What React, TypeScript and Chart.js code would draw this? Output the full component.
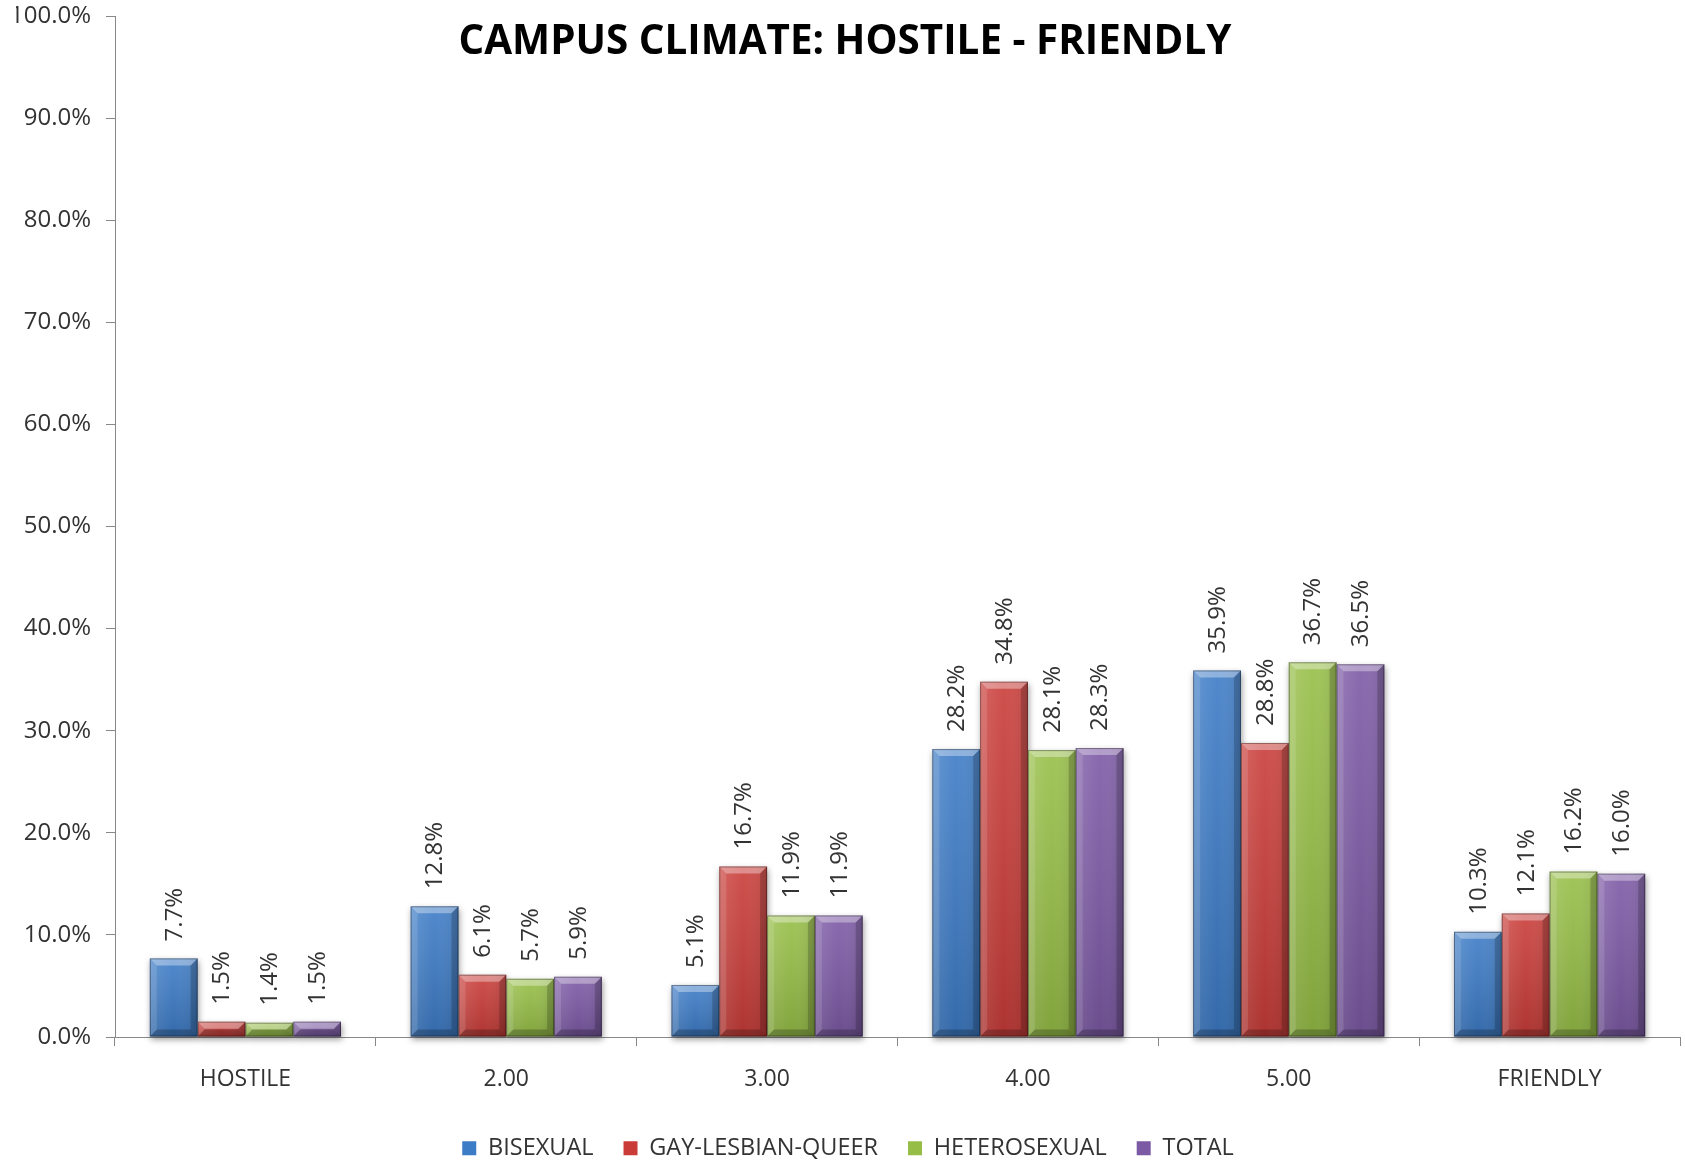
import React, { useEffect, useRef } from "react";
import { Chart, registerables } from "chart.js";

Chart.register(...registerables);

const categories = ["HOSTILE", "2.00", "3.00", "4.00", "5.00", "FRIENDLY"];
const seriesNames = ["BISEXUAL", "GAY-LESBIAN-QUEER", "HETEROSEXUAL", "TOTAL"];
const bisexual = [7.7, 12.8, 5.1, 28.2, 35.9, 10.3];
const gayLesbianQueer = [1.5, 6.1, 16.7, 34.8, 28.8, 12.1];
const heterosexual = [1.4, 5.7, 11.9, 28.1, 36.7, 16.2];
const total = [1.5, 5.9, 11.9, 28.3, 36.5, 16.0];
const seriesValues = [bisexual, gayLesbianQueer, heterosexual, total];
const seriesColors = ["#3C7BC6", "#C93C38", "#96BE46", "#7C59A5"];
const titleText = "CAMPUS CLIMATE: HOSTILE - FRIENDLY";
const yMin = 0;
const yMax = 100;
const yStep = 10;

const FONT = '"Open Sans", "DejaVu Sans", sans-serif';

function barRect(el: any) {
  const p = el.getProps(["x", "y", "base", "width"], true);
  const left = p.x - p.width / 2;
  const right = p.x + p.width / 2;
  const top = Math.min(p.y, p.base);
  const bottom = Math.max(p.y, p.base);
  return { left, right, top, bottom, x: p.x, y: p.y, w: p.width, h: bottom - top };
}

const shadowPlugin = {
  id: "barShadow",
  beforeDatasetsDraw(chart: any) {
    const ctx = chart.ctx;
    ctx.save();
    ctx.filter = "blur(3px)";
    ctx.fillStyle = "rgba(0,0,0,0.40)";
    chart.data.datasets.forEach((_: any, i: number) => {
      const meta = chart.getDatasetMeta(i);
      if (!meta.visible) return;
      meta.data.forEach((el: any) => {
        const r = barRect(el);
        ctx.fillRect(r.left + 1, r.top + 3, r.w, r.h);
      });
    });
    ctx.restore();
  },
};

const bevelPlugin = {
  id: "barBevel",
  afterDatasetsDraw(chart: any) {
    const ctx = chart.ctx;
    chart.data.datasets.forEach((_: any, i: number) => {
      const meta = chart.getDatasetMeta(i);
      if (!meta.visible) return;
      meta.data.forEach((el: any) => {
        const r = barRect(el);
        if (r.h <= 0) return;
        const b = Math.min(7, r.h / 2, r.w / 2);
        ctx.save();
        const gh = ctx.createLinearGradient(r.left, 0, r.right, 0);
        gh.addColorStop(0, "rgba(255,255,255,0.12)");
        gh.addColorStop(0.5, "rgba(255,255,255,0.0)");
        gh.addColorStop(1, "rgba(0,0,0,0.12)");
        ctx.fillStyle = gh;
        ctx.fillRect(r.left, r.top, r.w, r.h);
        const gv = ctx.createLinearGradient(0, r.top, 0, r.bottom);
        gv.addColorStop(0, "rgba(255,255,255,0.10)");
        gv.addColorStop(1, "rgba(0,0,0,0.14)");
        ctx.fillStyle = gv;
        ctx.fillRect(r.left, r.top, r.w, r.h);
        const poly = (pts: number[][], color: string) => {
          ctx.beginPath();
          ctx.moveTo(pts[0][0], pts[0][1]);
          for (let k = 1; k < pts.length; k++) ctx.lineTo(pts[k][0], pts[k][1]);
          ctx.closePath();
          ctx.fillStyle = color;
          ctx.fill();
        };
        poly(
          [
            [r.left, r.top],
            [r.right, r.top],
            [r.right - b, r.top + b],
            [r.left + b, r.top + b],
          ],
          "rgba(255,255,255,0.35)"
        );
        poly(
          [
            [r.left, r.top],
            [r.left + b, r.top + b],
            [r.left + b, r.bottom - b],
            [r.left, r.bottom],
          ],
          "rgba(255,255,255,0.12)"
        );
        poly(
          [
            [r.right, r.top],
            [r.right, r.bottom],
            [r.right - b, r.bottom - b],
            [r.right - b, r.top + b],
          ],
          "rgba(0,0,0,0.18)"
        );
        poly(
          [
            [r.left, r.bottom],
            [r.left + b, r.bottom - b],
            [r.right - b, r.bottom - b],
            [r.right, r.bottom],
          ],
          "rgba(0,0,0,0.22)"
        );
        ctx.strokeStyle = "rgba(0,0,0,0.35)";
        ctx.lineWidth = 1;
        ctx.strokeRect(r.left + 0.5, r.top + 0.5, r.w - 1, r.h - 1);
        ctx.restore();
      });
    });
  },
};

const labelPlugin = {
  id: "rotLabels",
  afterDatasetsDraw(chart: any) {
    const ctx = chart.ctx;
    chart.data.datasets.forEach((ds: any, i: number) => {
      const meta = chart.getDatasetMeta(i);
      if (!meta.visible) return;
      meta.data.forEach((el: any, j: number) => {
        const r = barRect(el);
        const v = ds.data[j] as number;
        ctx.save();
        ctx.translate(r.x, r.top - 17);
        ctx.rotate(-Math.PI / 2);
        ctx.font = `24px ${FONT}`;
        ctx.fillStyle = "#333333";
        ctx.textAlign = "left";
        ctx.textBaseline = "middle";
        ctx.fillText(v.toFixed(1) + "%", 0, 1);
        ctx.restore();
      });
    });
  },
};

const titlePlugin = {
  id: "overlayTitle",
  afterDraw(chart: any) {
    const ctx = chart.ctx;
    ctx.save();
    ctx.font = `bold 42px ${FONT}`;
    ctx.fillStyle = "#000000";
    ctx.textAlign = "center";
    ctx.textBaseline = "alphabetic";
    const w = ctx.measureText(titleText).width;
    const target = 773;
    const s = Math.min(1, target / w);
    ctx.translate(845, 54);
    ctx.scale(s, 1);
    ctx.fillText(titleText, 0, 0);
    ctx.restore();
  },
};

export default function App() {
  const canvasRef = useRef<HTMLCanvasElement | null>(null);

  useEffect(() => {
    if (!canvasRef.current) return;
    const chart = new Chart(canvasRef.current, {
      type: "bar",
      data: {
        labels: categories,
        datasets: seriesNames.map((name, i) => ({
          label: name,
          data: seriesValues[i],
          backgroundColor: seriesColors[i],
          borderWidth: 0,
          categoryPercentage: 0.733,
          barPercentage: 1.0,
        })),
      },
      options: {
        animation: false,
        responsive: true,
        maintainAspectRatio: false,
        layout: { padding: { top: 16, right: 5, left: 16, bottom: -10 } },
        plugins: {
          title: { display: false },
          tooltip: { enabled: false },
          legend: {
            display: true,
            position: "bottom",
            labels: {
              boxWidth: 14,
              boxHeight: 14,
              padding: 30,
              color: "#333333",
              font: { size: 23.5, family: FONT },
            },
          },
        },
        scales: {
          x: {
            type: "category",
            offset: true,
            grid: {
              display: true,
              drawOnChartArea: false,
              drawTicks: true,
              tickLength: 9,
              color: "#888888",
              offset: true,
            },
            border: { display: true, color: "#888888" },
            ticks: {
              color: "#333333",
              font: { size: 23, family: FONT },
              padding: 20,
              maxRotation: 0,
              autoSkip: false,
            },
            afterFit: (scale: any) => {
              scale.height = 69.5;
              scale.paddingLeft = 0;
              scale.paddingRight = 0;
            },
          },
          y: {
            min: yMin,
            max: yMax,
            grid: {
              display: true,
              drawOnChartArea: false,
              drawTicks: true,
              tickLength: 9,
              color: "#888888",
            },
            border: { display: true, color: "#888888" },
            ticks: {
              stepSize: yStep,
              color: "#333333",
              font: { size: 24, family: FONT },
              padding: 15,
              callback: (v: any) => Number(v).toFixed(1) + "%",
            },
            afterFit: (scale: any) => {
              scale.width = 99;
              scale.paddingTop = 0;
              scale.paddingBottom = 0;
            },
          },
        },
      },
      plugins: [shadowPlugin, bevelPlugin, labelPlugin, titlePlugin],
    });
    return () => chart.destroy();
  }, []);

  return (
    <div
      style={{
        position: "fixed",
        left: 0,
        top: 0,
        width: "1685px",
        height: "1160px",
        background: "#ffffff",
      }}
    >
      <canvas ref={canvasRef} />
    </div>
  );
}
